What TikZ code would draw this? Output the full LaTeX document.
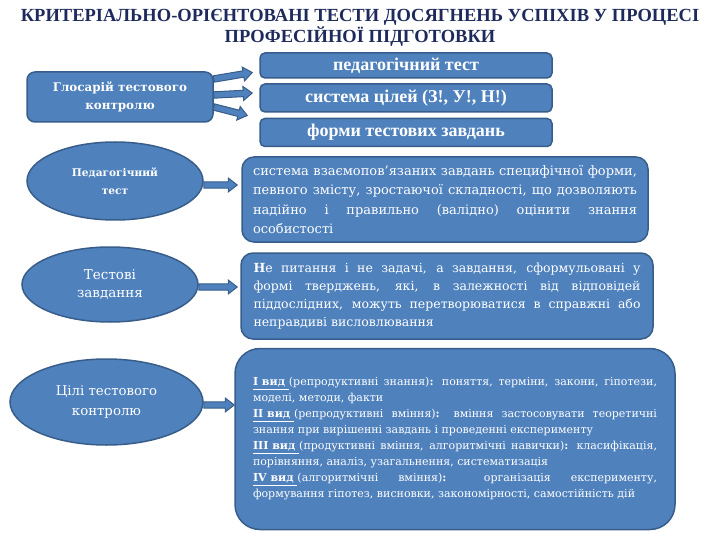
\documentclass[tikz,border=0pt]{standalone}
\usepackage{fontspec}
\setmainfont{DejaVu Serif}
\newfontfamily\titlefont{Liberation Serif}
\usetikzlibrary{shapes.geometric,calc}
\definecolor{boxblue}{HTML}{4F81BD}
\definecolor{boxedge}{HTML}{385D8A}
\definecolor{titleblue}{HTML}{1F2A5C}
\tikzset{
  blue box/.style={fill=boxblue, draw=boxedge, line width=1.5pt, text=white, inner sep=0pt},
  topbox/.style={blue box, rounded corners=5pt, minimum width=292pt, font=\titlefont\bfseries\fontsize{18}{20}\selectfont},
  oval/.style={blue box, ellipse, align=center},
  descbox/.style={blue box, align=justify},
  arrowsty/.style={fill=boxblue, draw=boxedge, line width=1pt, line join=miter},
}
\newcommand\blockarr[2]{%
  \draw[arrowsty] let \p1=#1, \p2=#2,
    \n1={atan2(\y2-\y1,\x2-\x1)}, \n2={veclen(\x2-\x1,\y2-\y1)} in
    [shift={(\p1)}, rotate=\n1]
    (0pt,-3.2pt) -- ({(\n2-9)*1pt},-3.2pt) -- ({(\n2-9)*1pt},-7pt) -- ({\n2*1pt},0pt)
    -- ({(\n2-9)*1pt},7pt) -- ({(\n2-9)*1pt},3.2pt) -- (0pt,3.2pt) -- cycle;}
\begin{document}
\begin{tikzpicture}[x=1pt,y=-1pt]
\useasboundingbox (0,0) rectangle (720,540);
% title
\node[text=titleblue, align=center, font=\titlefont\bfseries\fontsize{18.5}{21}\selectfont] (title) at (360,28)
  {КРИТЕРІАЛЬНО-ОРІЄНТОВАНІ ТЕСТИ ДОСЯГНЕНЬ УСПІХІВ У ПРОЦЕСІ\\ПРОФЕСІЙНОЇ ПІДГОТОВКИ};
% glossary
\node[blue box, rounded corners=8pt, minimum width=186pt, minimum height=50pt, align=center,
  font=\bfseries\fontsize{11.9}{18}\selectfont] (g) at (120,97) {Глосарій тестового\\контролю};
\node[topbox, minimum height=25pt] (t1) at (406,65.5) {педагогічний тест};
\node[topbox, minimum height=28pt] (t2) at (406,98) {система цілей (З!, У!, Н!)};
\node[topbox, minimum height=28pt] (t3) at (406,132.5) {форми тестових завдань};
\blockarr{([yshift=18pt]g.east)}{([xshift=-7pt,yshift=-7pt]t1.west)}
\blockarr{([yshift=2pt]g.east)}{([xshift=-7pt,yshift=5pt]t2.west)}
\blockarr{([yshift=-10pt]g.east)}{([xshift=-12pt,yshift=17pt]t3.west)}
% ellipses
\node[oval, minimum width=176pt, minimum height=78pt, font=\bfseries\fontsize{10.6}{18}\selectfont] (e1) at (115,181) {Педагогічний\\тест};
\node[oval, minimum width=176pt, minimum height=75pt, font=\fontsize{13.5}{18}\selectfont] (e2) at (110,284.5) {Тестові\\завдання};
\node[oval, minimum width=193pt, minimum height=86pt, font=\fontsize{13.3}{20}\selectfont] (e3) at (106.5,402) {Цілі тестового\\контролю};
% description boxes
\node[descbox, rounded corners=12pt, minimum width=406pt, minimum height=85pt, text width=384pt,
  font=\fontsize{13}{19.5}\selectfont] (d1) at (445,199.5)
  {система взаємопов'язаних завдань специфічної форми,\linebreak певного змісту, зростаючої складності, що дозволяють\linebreak надійно і правильно (валідно) оцінити знання\linebreak особистості};
\node[descbox, rounded corners=12pt, minimum width=412pt, minimum height=86pt, text width=387pt,
  font=\fontsize{12.5}{18}\selectfont] (d2) at (447,296)
  {\textbf{Н}е питання і не задачі, а завдання, сформульовані у\linebreak формі тверджень, які, в залежності від відповідей\linebreak піддослідних, можуть перетворюватися в справжні або\linebreak неправдиві висловлювання};
\node[descbox, rounded corners=25pt, minimum width=440pt, minimum height=181pt, text width=404pt,
  font=\fontsize{11}{16}\selectfont] (d3) at (455,439)
  {\textbf{\underline{I вид }}(репродуктивні знання)\textbf{:} поняття, терміни, закони, гіпотези,\linebreak моделі, методи, факти\\
   \textbf{\underline{II вид }}(репродуктивні вміння)\textbf{:} вміння застосовувати теоретичні\linebreak знання при вирішенні завдань і проведенні експерименту\\
   \textbf{\underline{III вид }}(продуктивні вміння, алгоритмічні навички)\textbf{:} класифікація,\linebreak порівняння, аналіз, узагальнення, систематизація\\
   \textbf{\underline{IV вид }}(алгоритмічні вміння)\textbf{:} організація експерименту,\linebreak формування гіпотез, висновки, закономірності, самостійність дій};
% arrows from ellipses
\blockarr{($(e1.east)+(0,4)$)}{($(e1.east -| d1.west)+(-4,4)$)}
\blockarr{($(e2.east)+(0,2.5)$)}{($(e2.east -| d2.west)+(-3,2.5)$)}
\blockarr{($(e3.east)+(0,3)$)}{($(e3.east -| d3.west)+(0,3)$)}
\end{tikzpicture}
\end{document}
